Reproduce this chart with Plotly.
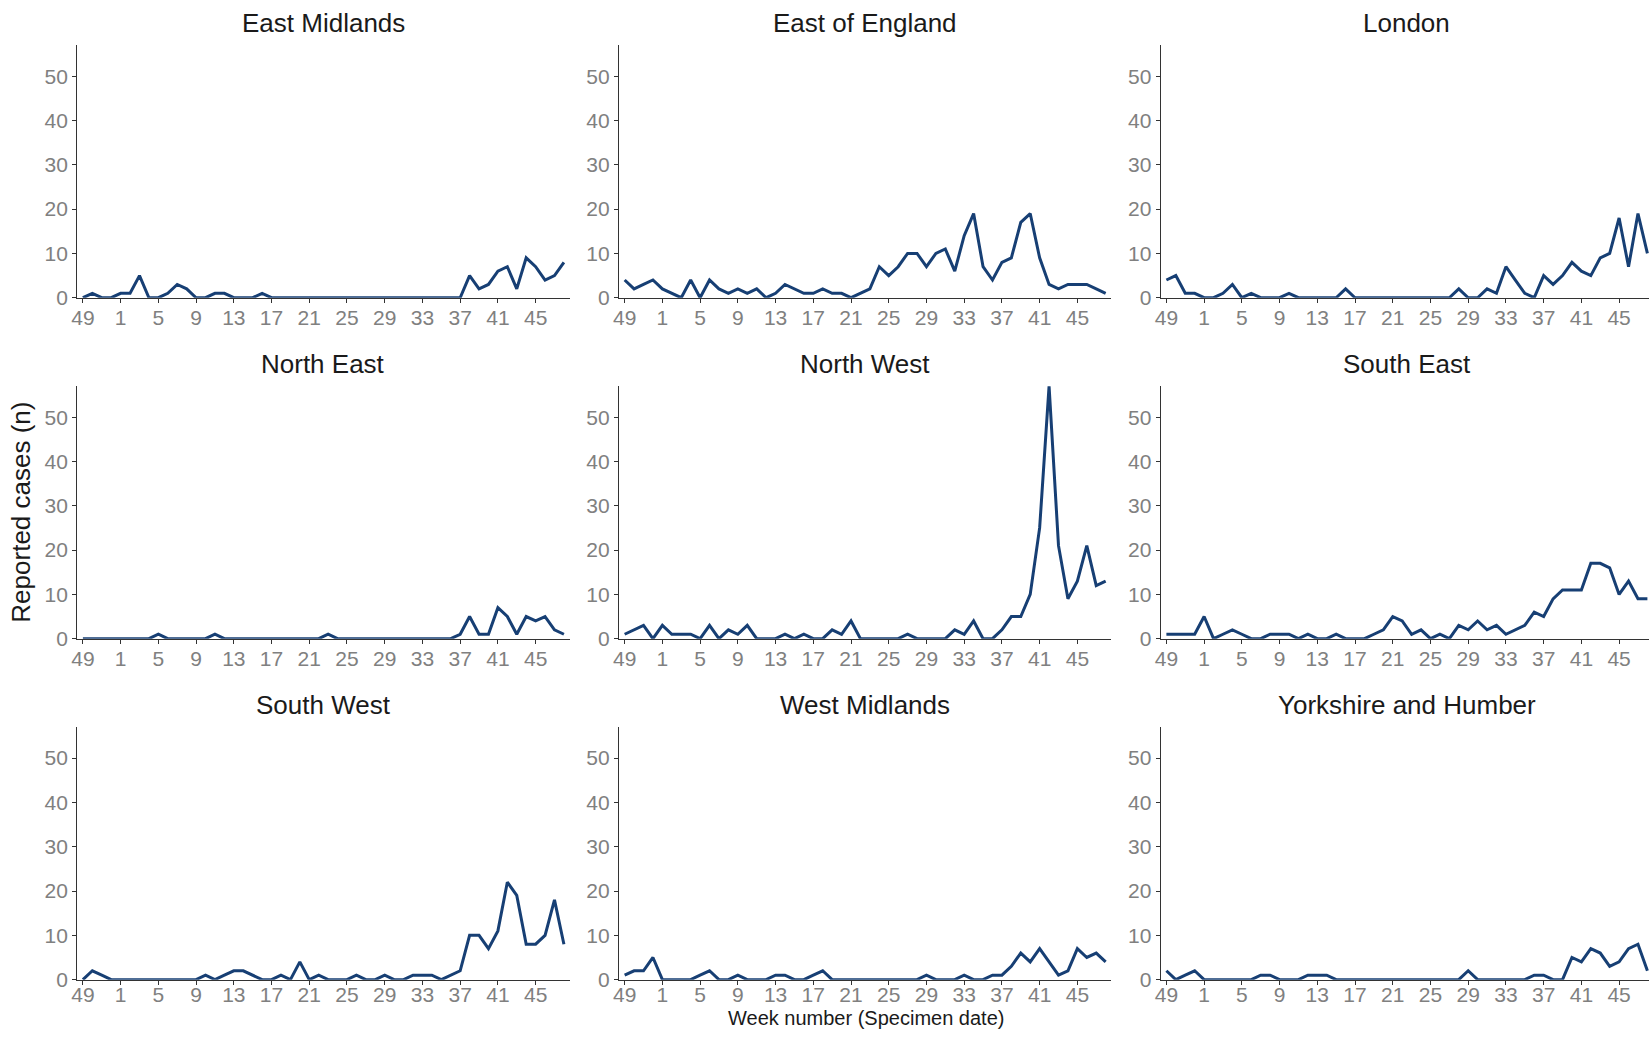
import plotly.graph_objects as go

# ---------------- data ----------------
weeks = ["49", "50", "51", "52"] + [str(w) for w in range(1, 49)]
tick_weeks = ["49", "1", "5", "9", "13", "17", "21", "25", "29", "33", "37", "41", "45"]

regions = ["East Midlands", "East of England", "London",
           "North East", "North West", "South East",
           "South West", "West Midlands", "Yorkshire and Humber"]

east_midlands = [0, 1, 0, 0, 1, 1, 5, 0, 0, 1, 3, 2, 0, 0, 1, 1, 0, 0, 0, 1,
                 0, 0, 0, 0, 0, 0, 0, 0, 0, 0, 0, 0, 0, 0, 0, 0, 0, 0, 0, 0,
                 0, 5, 2, 3, 6, 7, 2, 9, 7, 4, 5, 8]
east_of_england = [4, 2, 3, 4, 2, 1, 0, 4, 0, 4, 2, 1, 2, 1, 2, 0, 1, 3, 2, 1,
                   1, 2, 1, 1, 0, 1, 2, 7, 5, 7, 10, 10, 7, 10, 11, 6, 14, 19, 7, 4,
                   8, 9, 17, 19, 9, 3, 2, 3, 3, 3, 2, 1]
london = [4, 5, 1, 1, 0, 0, 1, 3, 0, 1, 0, 0, 0, 1, 0, 0, 0, 0, 0, 2,
          0, 0, 0, 0, 0, 0, 0, 0, 0, 0, 0, 2, 0, 0, 2, 1, 7, 4, 1, 0,
          5, 3, 5, 8, 6, 5, 9, 10, 18, 7, 19, 10]
north_east = [0, 0, 0, 0, 0, 0, 0, 0, 1, 0, 0, 0, 0, 0, 1, 0, 0, 0, 0, 0,
              0, 0, 0, 0, 0, 0, 1, 0, 0, 0, 0, 0, 0, 0, 0, 0, 0, 0, 0, 0,
              1, 5, 1, 1, 7, 5, 1, 5, 4, 5, 2, 1]
north_west = [1, 2, 3, 0, 3, 1, 1, 1, 0, 3, 0, 2, 1, 3, 0, 0, 0, 1, 0, 1,
              0, 0, 2, 1, 4, 0, 0, 0, 0, 0, 1, 0, 0, 0, 0, 2, 1, 4, 0, 0,
              2, 5, 5, 10, 25, 57, 21, 9, 13, 21, 12, 13]
south_east = [1, 1, 1, 1, 5, 0, 1, 2, 1, 0, 0, 1, 1, 1, 0, 1, 0, 0, 1, 0,
              0, 0, 1, 2, 5, 4, 1, 2, 0, 1, 0, 3, 2, 4, 2, 3, 1, 2, 3, 6,
              5, 9, 11, 11, 11, 17, 17, 16, 10, 13, 9, 9]
south_west = [0, 2, 1, 0, 0, 0, 0, 0, 0, 0, 0, 0, 0, 1, 0, 1, 2, 2, 1, 0,
              0, 1, 0, 4, 0, 1, 0, 0, 0, 1, 0, 0, 1, 0, 0, 1, 1, 1, 0, 1,
              2, 10, 10, 7, 11, 22, 19, 8, 8, 10, 18, 8]
west_midlands = [1, 2, 2, 5, 0, 0, 0, 0, 1, 2, 0, 0, 1, 0, 0, 0, 1, 1, 0, 0,
                 1, 2, 0, 0, 0, 0, 0, 0, 0, 0, 0, 0, 1, 0, 0, 0, 1, 0, 0, 1,
                 1, 3, 6, 4, 7, 4, 1, 2, 7, 5, 6, 4]
yorkshire = [2, 0, 1, 2, 0, 0, 0, 0, 0, 0, 1, 1, 0, 0, 0, 1, 1, 1, 0, 0,
             0, 0, 0, 0, 0, 0, 0, 0, 0, 0, 0, 0, 2, 0, 0, 0, 0, 0, 0, 1,
             1, 0, 0, 5, 4, 7, 6, 3, 4, 7, 8, 2]

series = [east_midlands, east_of_england, london,
          north_east, north_west, south_east,
          south_west, west_midlands, yorkshire]

y_max = 57
y_ticks = [0, 10, 20, 30, 40, 50]

# ---------------- layout geometry (target window pixels) ----------------
W, H = 1649, 1041
col_left = [76.8, 618.4, 1160.0]
panel_w = 492.2
row_top = [45.2, 386.0, 726.8]
panel_h = 252.4
x_lo, x_hi = -0.6, 51.6

# empirical correction between designed and photographed positions
X_OFF, X_SCALE = 5.57, 0.9961
Y_SCALE = 0.989

LINE = "#173f74"
AXIS = "#333333"
TICKLAB = "#808080"
FONT = "Liberation Sans, Arial, sans-serif"


def tx(v):
    return (v - X_OFF) / X_SCALE


def ty(v):
    return v / Y_SCALE


def px(v):
    return tx(v) / W


def py(v):
    return 1 - ty(v) / H


fig = go.Figure()
annotations = []

for i, (name, vals) in enumerate(zip(regions, series)):
    r, c = divmod(i, 3)
    k = i + 1
    xa = "x" if k == 1 else f"x{k}"
    ya = "y" if k == 1 else f"y{k}"
    left = col_left[c]
    right = left + panel_w
    x0, x1 = px(left), px(right)
    hi = x_hi
    if x1 > 1.0:
        hi = x_lo + (x_hi - x_lo) * (1.0 - x0) / (x1 - x0)
        x1 = 1.0
    top = row_top[r]
    bottom = top + panel_h

    fig.add_trace(go.Scatter(
        x=weeks, y=vals, mode="lines",
        line=dict(color=LINE, width=3),
        xaxis=xa, yaxis=ya, showlegend=False,
        hovertemplate=name + "<br>Week %{x}: %{y}<extra></extra>"))

    xkey = "xaxis" if k == 1 else f"xaxis{k}"
    ykey = "yaxis" if k == 1 else f"yaxis{k}"
    fig.layout[xkey] = dict(
        domain=[x0, x1], anchor=ya,
        type="category", categoryorder="array", categoryarray=weeks,
        range=[x_lo, hi],
        tickmode="array", tickvals=tick_weeks, ticktext=tick_weeks,
        showline=True, linecolor=AXIS, linewidth=1.2,
        ticks="outside", ticklen=4, tickwidth=1.2, tickcolor=AXIS,
        ticklabelstandoff=-8 if r == 2 else -3,
        tickfont=dict(family=FONT, size=21, color=TICKLAB),
        showgrid=False, zeroline=False, fixedrange=True)
    fig.layout[ykey] = dict(
        domain=[py(bottom), py(top)], anchor=xa,
        range=[0, y_max],
        tickmode="array", tickvals=y_ticks,
        showline=True, linecolor=AXIS, linewidth=1.2,
        ticks="outside", ticklen=4, tickwidth=1.2, tickcolor=AXIS,
        tickfont=dict(family=FONT, size=21, color=TICKLAB),
        showgrid=False, zeroline=False, fixedrange=True)

    annotations.append(dict(
        text=name, xref="paper", yref="paper",
        x=px(left + panel_w / 2), y=py(top - 22),
        xanchor="center", yanchor="middle", showarrow=False,
        font=dict(family=FONT, size=26, color="#1a1a1a")))

annotations.append(dict(
    text="Reported cases (n)", xref="paper", yref="paper",
    x=px(21), y=py(512), xanchor="center", yanchor="middle",
    textangle=-90, showarrow=False,
    font=dict(family=FONT, size=26, color="#1a1a1a")))
# bottom title: kept fully inside the page, below the tick labels
annotations.append(dict(
    text="Week number (Specimen date)", xref="paper", yref="paper",
    x=px(865.5), y=0, xanchor="center", yanchor="bottom",
    borderpad=0, showarrow=False,
    font=dict(family=FONT, size=20, color="#1a1a1a")))

fig.update_layout(
    width=W, height=H,
    margin=dict(l=0, r=0, t=0, b=0),
    paper_bgcolor="white", plot_bgcolor="white",
    annotations=annotations,
    showlegend=False)

fig.write_html(
    "out.html", config={"displayModeBar": False},
    post_script="document.body.style.margin='0';"
                "document.body.style.overflow='hidden';")
